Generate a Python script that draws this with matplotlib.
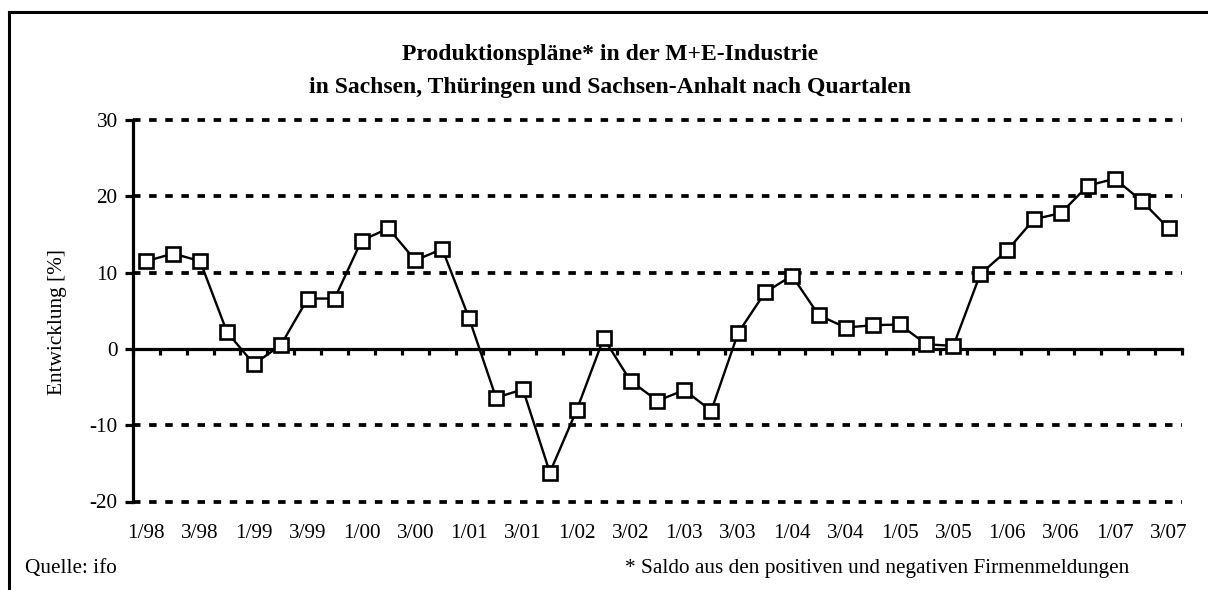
import matplotlib
matplotlib.use("Agg")
import matplotlib.pyplot as plt
from matplotlib.lines import Line2D

plt.rcParams['font.family'] = ['Liberation Serif', 'DejaVu Serif']

quarters = [f"{q}/{y:02d}" for y in list(range(98, 100)) + list(range(0, 8)) for q in range(1, 5)][:39]
values = [11.5, 12.5, 11.5, 2.2, -2.0, 0.5, 6.6, 6.6, 14.2, 15.8, 11.6, 13.1,
          4.0, -6.4, -5.3, -16.2, -8.0, 1.4, -4.2, -6.8, -5.4, -8.1, 2.1, 7.4,
          9.6, 4.4, 2.8, 3.1, 3.2, 0.6, 0.4, 9.8, 12.9, 17.0, 17.8, 21.4, 22.3,
          19.4, 15.8]
yticks = [-20, -10, 0, 10, 20, 30]
title = "Produktionspläne* in der M+E-Industrie\nin Sachsen, Thüringen und Sachsen-Anhalt nach Quartalen"
ylabel = "Entwicklung [%]"
source = "Quelle: ifo"
footnote = "* Saldo aus den positiven und negativen Firmenmeldungen"

FS = 15.3

fig = plt.figure(figsize=(12.08, 5.90), dpi=100)
ax = fig.add_axes([0.110, 0.150, 0.8685, 0.6466])

x = list(range(len(values)))
ax.set_xlim(-0.5, len(values) - 0.5)
ax.set_ylim(-20, 30)

for yv in yticks:
    if yv != 0:
        ax.axhline(yv, color='black', lw=2.7, dashes=(2.0, 2.3), zorder=1,
                   dash_capstyle='butt', clip_on=False)

ax.plot(x, values, color='black', lw=1.7, marker='s', markersize=10,
        markerfacecolor='white', markeredgecolor='black', markeredgewidth=1.9,
        zorder=3, clip_on=False)

for s in ['top', 'right']:
    ax.spines[s].set_visible(False)
ax.spines['left'].set_linewidth(2.3)
ax.spines['bottom'].set_position(('data', 0))
ax.spines['bottom'].set_linewidth(2.3)
ax.spines['bottom'].set_zorder(2)

ax.set_yticks(yticks)
ax.set_yticklabels([str(v) for v in yticks])
ax.tick_params(axis='y', direction='out', length=6, width=2.3, pad=5, labelsize=FS)

# x axis at zero: ticks at category boundaries, no labels
ax.set_xticks([i - 0.5 for i in range(len(values) + 1)])
ax.set_xticklabels([])
ax.tick_params(axis='x', direction='out', length=4, width=2.3)

# labels at bottom
sec = ax.secondary_xaxis('bottom')
sec.set_xticks(x[::2])
sec.set_xticklabels(quarters[::2])
sec.tick_params(axis='x', length=0, pad=16, labelsize=FS)
sec.spines['bottom'].set_visible(False)

ax.set_ylabel(ylabel, fontsize=FS)
ax.yaxis.set_label_coords(-0.063, 0.47)

fig.text(0.505, 0.879, title, ha='center', va='center', fontsize=17,
         fontweight='bold', linespacing=1.75)
fig.text(0.021, 0.037, source, ha='left', va='center', fontsize=FS)
fig.text(0.517, 0.037, footnote, ha='left', va='center', fontsize=FS)

# frame lines (left and top)
fig.add_artist(Line2D([0.0075, 0.0075], [0, 0.98], transform=fig.transFigure,
                      color='black', lw=2.2, solid_capstyle='projecting'))
fig.add_artist(Line2D([0.0075, 1.0], [0.98, 0.98], transform=fig.transFigure,
                      color='black', lw=2.2, solid_capstyle='projecting'))

fig.savefig('out.png', dpi=100)
